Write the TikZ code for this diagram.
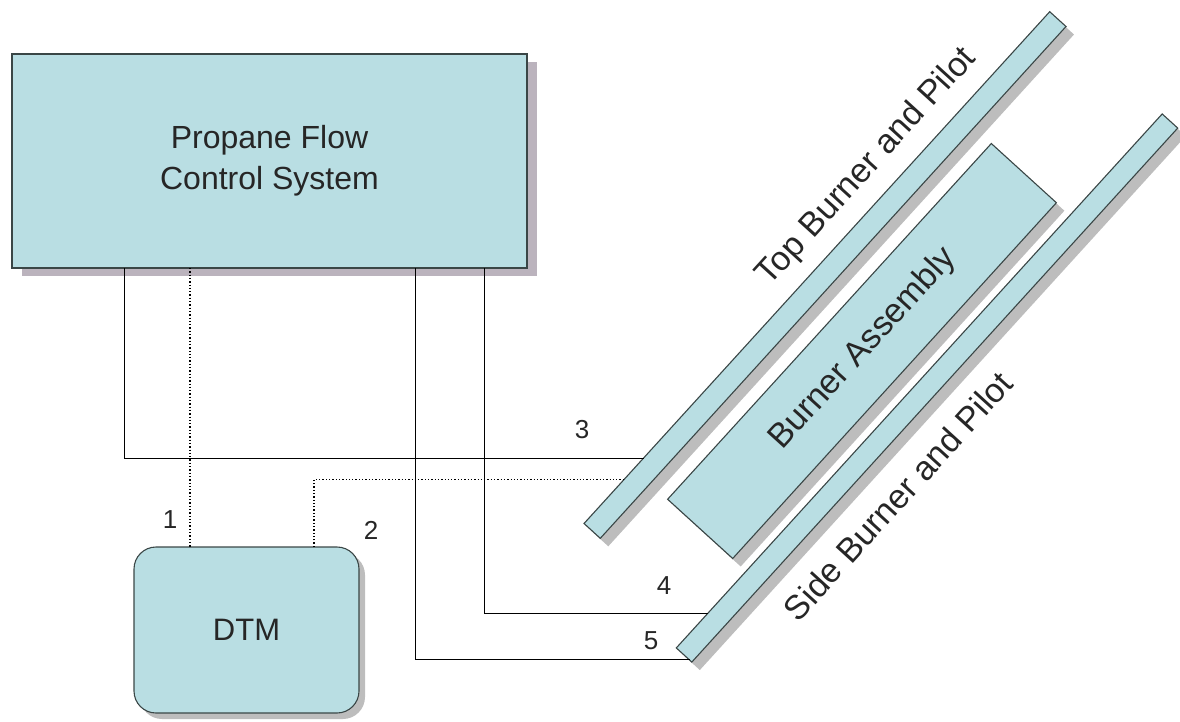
\documentclass[tikz,border=0pt]{standalone}
\usepackage{fontspec}
\setmainfont{Liberation Sans}
\definecolor{boxfill}{HTML}{B9DEE3}
\definecolor{boxline}{HTML}{3A4646}
\definecolor{shadowgray}{HTML}{BDBDBD}
\definecolor{pshadow}{HTML}{BBB3BD}
\begin{document}
\begin{tikzpicture}[x=1pt,y=-1pt,
  box/.style={draw=boxline, fill=boxfill, line width=1.1pt, inner sep=0pt, outer sep=0pt},
  shade/.style={fill=shadowgray, draw=none, inner sep=0pt, outer sep=0pt},
  wire/.style={draw=black, line width=1pt},
  dwire/.style={draw=black, line width=1.3pt, dotted},
  big/.style={font=\fontsize{32}{41}\selectfont, text=black!85},
  tilt/.style={font=\fontsize{34}{40}\selectfont, text=black!85, rotate=47.7},
  num/.style={font=\fontsize{26}{30}\selectfont, text=black!85}]
\useasboundingbox (0,0) rectangle (1180,721);
% shadows
\node[shade, fill=pshadow, minimum width=515pt, minimum height=214pt] at (279.5,169) {};
\node[shade, rounded corners=22pt, minimum width=225pt, minimum height=166pt] at (252.5,636) {};
\node[shade, rotate=47.7, minimum width=692pt, minimum height=22pt] at (833,283) {};
\node[shade, rotate=47.7, minimum width=481pt, minimum height=88pt] at (870,359) {};
\node[shade, rotate=47.7, minimum width=722pt, minimum height=21pt] at (935,396) {};
% boxes
\node[box, minimum width=515pt, minimum height=214pt, align=center, big] (pf) at (269.5,161) {Propane Flow\\Control System};
\node[box, rounded corners=22pt, minimum width=225pt, minimum height=166pt, big, font=\fontsize{31}{36}\selectfont] (dtm) at (246.5,630) {DTM};
\node[box, rotate=47.7, minimum width=692pt, minimum height=22pt] (tb) at (825,275) {};
\node[box, rotate=47.7, minimum width=481pt, minimum height=88pt] (ba) at (862,351) {};
\node[box, rotate=47.7, minimum width=722pt, minimum height=21pt] (sb) at (927,388) {};
% connectors
\draw[wire] ([xshift=112pt]pf.south west) |- (intersection of 0,458--100,458 and tb.north west--tb.north east);
\draw[dwire] ([xshift=178pt]pf.south west) -- ([xshift=56pt]dtm.north west);
\draw[dwire] ([xshift=180pt]dtm.north west) |- (intersection of 0,479.5--100,479.5 and tb.north west--tb.north east);
\draw[wire] ([xshift=403pt]pf.south west) |- (intersection of 0,660--100,660 and sb.north west--sb.south west);
\draw[wire] ([xshift=472pt]pf.south west) |- (intersection of 0,613--100,613 and sb.north west--sb.north east);
% labels
\node[num] (n1) at (170,520) {1};
\node[num] (n2) at (371,530) {2};
\node[num] (n3) at (582,430) {3};
\node[num] (n4) at (664,586) {4};
\node[num] (n5) at (651,641) {5};
\node[tilt] (ttb) at (867,167) {Top Burner and Pilot};
\node[tilt] (tba) at (863,349) {Burner Assembly};
\node[tilt] (tsb) at (898,496) {Side Burner and Pilot};
\end{tikzpicture}
\end{document}
